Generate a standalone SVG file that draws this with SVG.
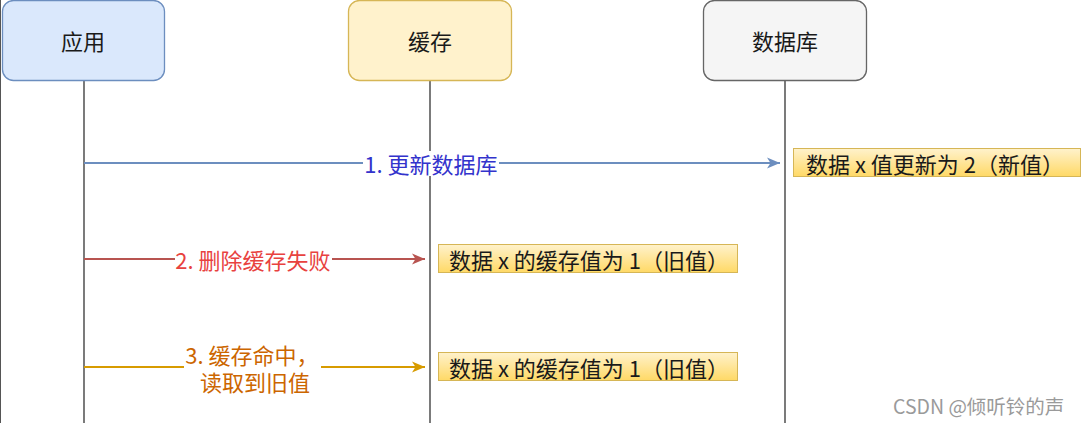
<svg xmlns="http://www.w3.org/2000/svg" width="1081" height="423" viewBox="0 0 1081 423">
<defs>
<linearGradient id="noteGrad" x1="0" y1="0" x2="0" y2="1">
<stop offset="0" stop-color="#fff2cc"/>
<stop offset="1" stop-color="#ffd966"/>
</linearGradient>
<marker id="arrBlue" markerUnits="userSpaceOnUse" markerWidth="14" markerHeight="12" refX="13" refY="6" orient="auto">
<path d="M0,0.5 L13,6 L0,11.5 L3.5,6 Z" fill="#6c8ebf"/>
</marker>
<marker id="arrRed" markerUnits="userSpaceOnUse" markerWidth="14" markerHeight="12" refX="13" refY="6" orient="auto">
<path d="M0,0.5 L13,6 L0,11.5 L3.5,6 Z" fill="#b85450"/>
</marker>
<marker id="arrOrange" markerUnits="userSpaceOnUse" markerWidth="14" markerHeight="12" refX="13" refY="6" orient="auto">
<path d="M0,0.5 L13,6 L0,11.5 L3.5,6 Z" fill="#d79b00"/>
</marker>
</defs>
<style>
text { font-family: "Noto Sans CJK SC", "Noto Sans", sans-serif; }
.node-text { font-size: 22px; fill: #1a1a1a; text-anchor: middle; dominant-baseline: central; }
.life { stroke: #333333; stroke-width: 1.3; fill: none; }
.note { fill: url(#noteGrad); stroke: #d6b656; stroke-width: 1; }
.note-text { font-size: 22px; fill: #1a1a1a; dominant-baseline: central; }
.lbl { font-size: 22px; text-anchor: middle; dominant-baseline: central; }
</style>
<rect width="1081" height="423" fill="#ffffff"/>
<line x1="0.5" y1="0" x2="0.5" y2="423" stroke="#555555" stroke-width="1"/>

<g id="lifelines">
<line class="life" x1="84" y1="81" x2="84" y2="423"/>
<line class="life" x1="430" y1="81" x2="430" y2="423"/>
<line class="life" x1="785" y1="81" x2="785" y2="423"/>
</g>

<g id="node-app">
<rect x="2.5" y="0.5" width="162" height="80" rx="11" fill="#dae8fc" stroke="#6c8ebf" stroke-width="1.3"/>
<text class="node-text" x="83" y="40">应用</text>
</g>
<g id="node-cache">
<rect x="348.5" y="0.5" width="163" height="80" rx="11" fill="#fff2cc" stroke="#d6b656" stroke-width="1.3"/>
<text class="node-text" x="430" y="40">缓存</text>
</g>
<g id="node-db">
<rect x="703.5" y="0.5" width="163" height="80" rx="11" fill="#f5f5f5" stroke="#666666" stroke-width="1.3"/>
<text class="node-text" x="785" y="40">数据库</text>
</g>

<g id="connectors">
<line x1="84" y1="163" x2="780" y2="163" stroke="#6c8ebf" stroke-width="2" marker-end="url(#arrBlue)"/>
<rect x="363" y="151" width="136" height="25" fill="#ffffff"/>
<text class="lbl" x="431" y="163" fill="#3333cc">1. 更新数据库</text>

<line x1="84" y1="259" x2="175" y2="259" stroke="#b85450" stroke-width="2"/>
<line x1="332" y1="259" x2="425" y2="259" stroke="#b85450" stroke-width="2" marker-end="url(#arrRed)"/>
<text class="lbl" x="253" y="259" fill="#e8423f">2. 删除缓存失败</text>

<line x1="84" y1="367" x2="184" y2="367" stroke="#d79b00" stroke-width="2"/>
<line x1="321" y1="367" x2="425" y2="367" stroke="#d79b00" stroke-width="2" marker-end="url(#arrOrange)"/>
<text class="lbl" x="252" y="354" fill="#cc6600">3. 缓存命中，</text>
<text class="lbl" x="255" y="381" fill="#cc6600">读取到旧值</text>
</g>

<g id="note-db">
<rect class="note" x="793.5" y="148.5" width="287" height="28"/>
<text class="note-text" x="806" y="163">数据 x 值更新为 2（新值）</text>
</g>
<g id="note-cache-1">
<rect class="note" x="438.5" y="244.5" width="299" height="28"/>
<text class="note-text" x="449" y="259">数据 x 的缓存值为 1（旧值）</text>
</g>
<g id="note-cache-2">
<rect class="note" x="438.5" y="352.5" width="299" height="28"/>
<text class="note-text" x="449" y="367">数据 x 的缓存值为 1（旧值）</text>
</g>

<text x="893" y="405" font-size="19.5" fill="#9a9a9a" dominant-baseline="central">CSDN @倾听铃的声</text>
</svg>
